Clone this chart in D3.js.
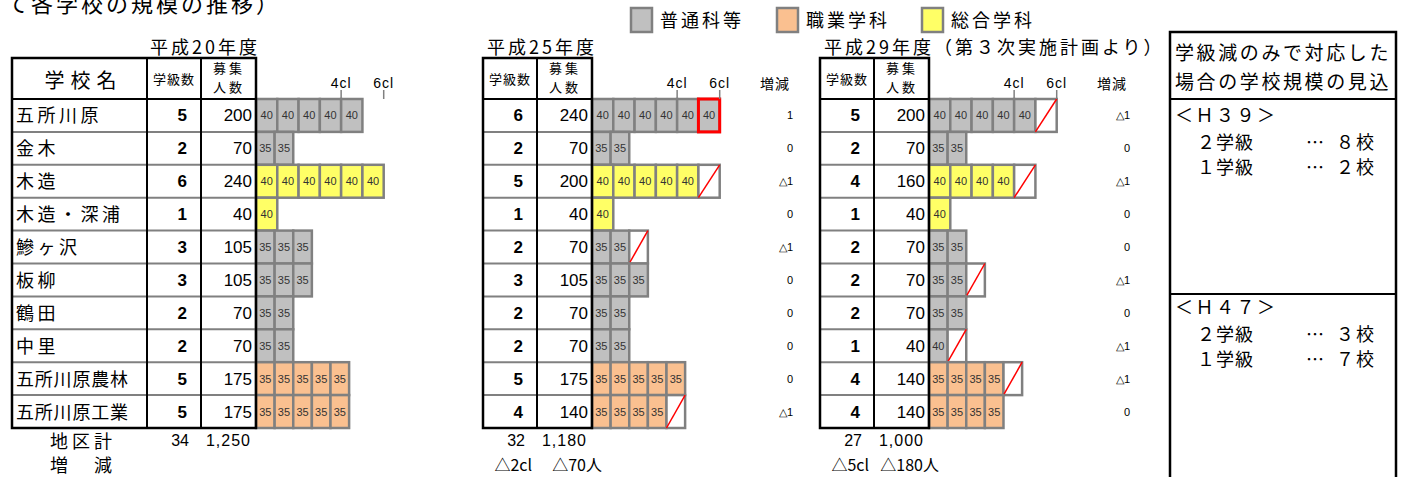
<!DOCTYPE html>
<html>
<head>
<meta charset="utf-8">
<script src="https://cdn.jsdelivr.net/npm/d3@7"></script>
<style>
  body { margin: 0; background: #fff; }
  svg { display: block; }
  text { font-family: "Noto Sans CJK JP", "Noto Sans", sans-serif; fill: #000; }
  .num { font-family: "Liberation Sans Narrow", "Liberation Sans", sans-serif; }
</style>
</head>
<body>
<div id="chart"></div>
<script>
// data
var schools   = ['五所川原', '金木', '木造', '木造・深浦', '鰺ヶ沢', '板柳', '鶴田', '中里', '五所川原農林', '五所川原工業'];
var courses   = ['gen', 'gen', 'sog', 'sog', 'gen', 'gen', 'gen', 'gen', 'voc', 'voc'];
var classSize = [40, 35, 40, 40, 35, 35, 35, 35, 35, 35];

var classesH20 = [5, 2, 6, 1, 3, 3, 2, 2, 5, 5];
var enrollH20  = [200, 70, 240, 40, 105, 105, 70, 70, 175, 175];

var classesH25 = [6, 2, 5, 1, 2, 3, 2, 2, 5, 4];
var enrollH25  = [240, 70, 200, 40, 70, 105, 70, 70, 175, 140];
var cutH25     = [0, 0, 1, 0, 1, 0, 0, 0, 0, 1];
var addH25     = [1, 0, 0, 0, 0, 0, 0, 0, 0, 0];
var changeH25  = ['1', '0', '△1', '0', '△1', '0', '0', '0', '0', '△1'];

var classesH29 = [5, 2, 4, 1, 2, 2, 2, 1, 4, 4];
var enrollH29  = [200, 70, 160, 40, 70, 70, 70, 40, 140, 140];
var cutH29     = [1, 0, 1, 0, 0, 1, 0, 1, 1, 0];
var changeH29  = ['△1', '0', '△1', '0', '0', '△1', '0', '△1', '△1', '0'];

var totalClasses = ['34', '32', '27'];
var totalEnroll  = ['1,250', '1,180', '1,000'];
var diffClasses  = ['', '△2cl', '△5cl'];
var diffEnroll   = ['', '△70人', '△180人'];

var tickValues = [160, 240];
var tickLabels = ['4cl', '6cl'];

var legendLabels = ['普通科等', '職業学科', '総合学科'];
var legendKeys   = ['gen', 'voc', 'sog'];

(function(d3){
  var W = 1408, H = 477;
  var fills = { gen: '#c0c0c0', voc: '#fac090', sog: '#ffff66', cut: '#ffffff' };
  var gridGray = '#808080';

  var svg = d3.select('#chart').append('svg')
    .attr('width', W).attr('height', H);

  // page title (cut off at the top edge)
  svg.append('text')
    .attr('x', 6).attr('y', 12)
    .attr('font-size', 22).attr('letter-spacing', 3)
    .text('て各学校の規模の推移）');

  // legend
  var lg = svg.append('g');
  var legendX = [631, 777, 922];
  legendLabels.forEach(function(l, i){
    lg.append('rect')
      .attr('x', legendX[i]).attr('y', 8).attr('width', 21).attr('height', 24)
      .attr('fill', fills[legendKeys[i]]).attr('stroke', gridGray).attr('stroke-width', 2.5);
    lg.append('text')
      .attr('x', legendX[i] + 29).attr('y', 27)
      .attr('font-size', 18).attr('letter-spacing', 3)
      .text(l);
  });

  var y = d3.scaleBand().domain(d3.range(schools.length)).range([99, 428]);
  var headTop = 58;

  var panels = [
    { title: '平成20年度', titleX: 150, nameX: 12, clsX: 147, classes: classesH20, enroll: enrollH20 },
    { title: '平成25年度', titleX: 487, clsX: 483, classes: classesH25, enroll: enrollH25, cut: cutH25, add: addH25, change: changeH25 },
    { title: '平成29年度（第３次実施計画より）', titleX: 824, clsX: 820, classes: classesH29, enroll: enrollH29, cut: cutH29, change: changeH29 }
  ];

  panels.forEach(function(p, pi){
    var enrX = p.clsX + 54, barX = enrX + 55;
    var left = p.nameX !== undefined ? p.nameX : p.clsX;
    var x = d3.scaleLinear().domain([0, 240]).range([barX, barX + 127.7]);
    var g = svg.append('g');

    g.append('text')
      .attr('x', p.titleX).attr('y', 54)
      .attr('font-size', 18).attr('letter-spacing', 3)
      .text(p.title);

    // class cells
    var cells = [];
    p.classes.forEach(function(c, i){
      var n = c + (p.cut ? p.cut[i] : 0);
      for (var j = 0; j < n; j++) {
        cells.push({
          row: i,
          x0: x(j * classSize[i]),
          x1: x((j + 1) * classSize[i]),
          kind: j < c ? courses[i] : 'cut',
          label: p.enroll[i] / c,
          isNew: p.add ? (j < c && j >= c - p.add[i]) : false
        });
      }
    });

    var cg = g.selectAll('g.cell').data(cells).enter().append('g').attr('class', 'cell');
    cg.append('rect')
      .attr('x', function(d){ return d.x0; })
      .attr('y', function(d){ return y(d.row); })
      .attr('width', function(d){ return d.x1 - d.x0; })
      .attr('height', y.bandwidth())
      .attr('fill', function(d){ return fills[d.kind]; })
      .attr('stroke', gridGray).attr('stroke-width', 2.5);
    cg.filter(function(d){ return d.kind !== 'cut'; }).append('text')
      .attr('class', 'num')
      .attr('x', function(d){ return (d.x0 + d.x1) / 2; })
      .attr('y', function(d){ return y(d.row) + y.bandwidth() / 2 + 4; })
      .attr('text-anchor', 'middle').attr('font-size', 11)
      .style('fill', '#333')
      .text(function(d){ return d.label; });
    cg.filter(function(d){ return d.kind === 'cut'; }).append('line')
      .attr('x1', function(d){ return d.x0; })
      .attr('y1', function(d){ return y(d.row) + y.bandwidth(); })
      .attr('x2', function(d){ return d.x1; })
      .attr('y2', function(d){ return y(d.row); })
      .attr('stroke', '#ff0000').attr('stroke-width', 1.5);
    cg.filter(function(d){ return d.isNew; }).append('rect')
      .attr('x', function(d){ return d.x0; })
      .attr('y', function(d){ return y(d.row); })
      .attr('width', function(d){ return d.x1 - d.x0; })
      .attr('height', y.bandwidth())
      .attr('fill', 'none').attr('stroke', '#ff0000').attr('stroke-width', 3);

    // 4cl / 6cl ticks
    tickValues.forEach(function(v, k){
      g.append('line')
        .attr('x1', x(v)).attr('x2', x(v)).attr('y1', 90).attr('y2', 99)
        .attr('stroke', gridGray).attr('stroke-width', 1.5);
      g.append('text')
        .attr('class', 'num')
        .attr('x', x(v)).attr('y', 88)
        .attr('text-anchor', 'middle').attr('font-size', 14).attr('letter-spacing', 1)
        .text(tickLabels[k]);
    });

    // change column
    if (p.change) {
      g.append('text')
        .attr('x', barX + 183).attr('y', 89)
        .attr('text-anchor', 'middle').attr('font-size', 14).attr('letter-spacing', 1)
        .text('増減');
      g.selectAll('text.chg').data(p.change).enter().append('text')
        .attr('class', 'chg num')
        .attr('x', barX + 201)
        .attr('y', function(d, i){ return y(i) + y.bandwidth() / 2 + 4; })
        .attr('text-anchor', 'end').attr('font-size', 11)
        .text(function(d){ return d; });
    }

    // table body text
    if (p.nameX !== undefined) {
      g.append('text')
        .attr('x', (p.nameX + p.clsX) / 2 + 4).attr('y', 88)
        .attr('text-anchor', 'middle').attr('font-size', 20).attr('letter-spacing', 6)
        .text('学校名');
      g.selectAll('text.school').data(schools).enter().append('text')
        .attr('class', 'school')
        .attr('x', p.nameX + 4)
        .attr('y', function(d, i){ return y(i) + y.bandwidth() / 2 + 7; })
        .attr('font-size', 18)
        .attr('letter-spacing', function(d){ return Math.min(3.5, (112 - 18 * d.length) / (d.length - 1)); })
        .text(function(d){ return d; });
    }
    g.append('text')
      .attr('x', p.clsX + 27).attr('y', 84)
      .attr('text-anchor', 'middle').attr('font-size', 13).attr('letter-spacing', 1)
      .text('学級数');
    g.append('text')
      .attr('x', enrX + 28).attr('y', 73)
      .attr('text-anchor', 'middle').attr('font-size', 13).attr('letter-spacing', 3)
      .text('募集');
    g.append('text')
      .attr('x', enrX + 28).attr('y', 92)
      .attr('text-anchor', 'middle').attr('font-size', 13).attr('letter-spacing', 3)
      .text('人数');

    g.selectAll('text.cls').data(p.classes).enter().append('text')
      .attr('class', 'cls num')
      .attr('x', p.clsX + 40)
      .attr('y', function(d, i){ return y(i) + y.bandwidth() / 2 + 6; })
      .attr('text-anchor', 'end').attr('font-size', 17).attr('font-weight', 'bold')
      .text(function(d){ return d; });
    g.selectAll('text.enr').data(p.enroll).enter().append('text')
      .attr('class', 'enr num')
      .attr('x', barX - 4)
      .attr('y', function(d, i){ return y(i) + y.bandwidth() / 2 + 6; })
      .attr('text-anchor', 'end').attr('font-size', 17)
      .text(function(d){ return d; });

    // table lines
    g.selectAll('line.row').data(d3.range(1, schools.length)).enter().append('line')
      .attr('x1', left).attr('x2', barX)
      .attr('y1', function(i){ return y(i); }).attr('y2', function(i){ return y(i); })
      .attr('stroke', gridGray).attr('stroke-width', 2);
    g.append('line')
      .attr('x1', left).attr('x2', barX).attr('y1', 99).attr('y2', 99)
      .attr('stroke', '#000').attr('stroke-width', 2);
    [p.clsX, enrX].forEach(function(cx){
      if (cx > left) {
        g.append('line')
          .attr('x1', cx).attr('x2', cx).attr('y1', headTop).attr('y2', 428)
          .attr('stroke', '#000').attr('stroke-width', 2);
      }
    });
    g.append('rect')
      .attr('x', left).attr('y', headTop)
      .attr('width', barX - left).attr('height', 428 - headTop)
      .attr('fill', 'none').attr('stroke', '#000').attr('stroke-width', 2.5);

    // totals
    g.append('text').attr('class', 'num')
      .attr('x', p.clsX + 42).attr('y', 446).attr('text-anchor', 'end').attr('font-size', 16)
      .text(totalClasses[pi]);
    g.append('text').attr('class', 'num')
      .attr('x', barX - 5).attr('y', 446).attr('text-anchor', 'end').attr('font-size', 16)
      .attr('letter-spacing', 1)
      .text(totalEnroll[pi]);
    g.append('text')
      .attr('x', p.clsX + 49).attr('y', 471).attr('text-anchor', 'end').attr('font-size', 16)
      .text(diffClasses[pi]);
    g.append('text')
      .attr('x', barX + 10).attr('y', 471).attr('text-anchor', 'end').attr('font-size', 16)
      .text(diffEnroll[pi]);

    if (p.nameX !== undefined) {
      g.append('text').attr('x', 50).attr('y', 448).attr('font-size', 18).attr('letter-spacing', 4).text('地区計');
      g.append('text').attr('x', 50).attr('y', 472).attr('font-size', 18).attr('letter-spacing', 4).text('増　減');
    }
  });

  // outlook box on the right
  var box = svg.append('g');
  box.append('rect')
    .attr('x', 1170).attr('y', 32).attr('width', 226).attr('height', 480)
    .attr('fill', 'none').attr('stroke', '#000').attr('stroke-width', 2.5);
  [99, 294].forEach(function(ly){
    box.append('line').attr('x1', 1170).attr('x2', 1396).attr('y1', ly).attr('y2', ly)
      .attr('stroke', '#000').attr('stroke-width', 2);
  });
  box.append('text').attr('x', 1175).attr('y', 60).attr('font-size', 19).attr('letter-spacing', 2.6).text('学級減のみで対応した');
  box.append('text').attr('x', 1175).attr('y', 89).attr('font-size', 19).attr('letter-spacing', 2.6).text('場合の学校規模の見込');

  var outlook = [
    { head: '＜Ｈ３９＞', y: 122, rows: [['２学級', '８校'], ['１学級', '２校']] },
    { head: '＜Ｈ４７＞', y: 314, rows: [['２学級', '３校'], ['１学級', '７校']] }
  ];
  outlook.forEach(function(o){
    box.append('text').attr('x', 1175).attr('y', o.y).attr('font-size', 18).attr('letter-spacing', 2.5).text(o.head);
    o.rows.forEach(function(r, k){
      var ty = o.y + 27 + k * 25;
      box.append('text').attr('x', 1197).attr('y', ty).attr('font-size', 18).attr('letter-spacing', 1).text(r[0]);
      box.append('text').attr('x', 1306).attr('y', ty).attr('font-size', 18).text('…');
      box.append('text').attr('x', 1336).attr('y', ty).attr('font-size', 18).attr('letter-spacing', 2).text(r[1]);
    });
  });
})(d3);
</script>
</body>
</html>
